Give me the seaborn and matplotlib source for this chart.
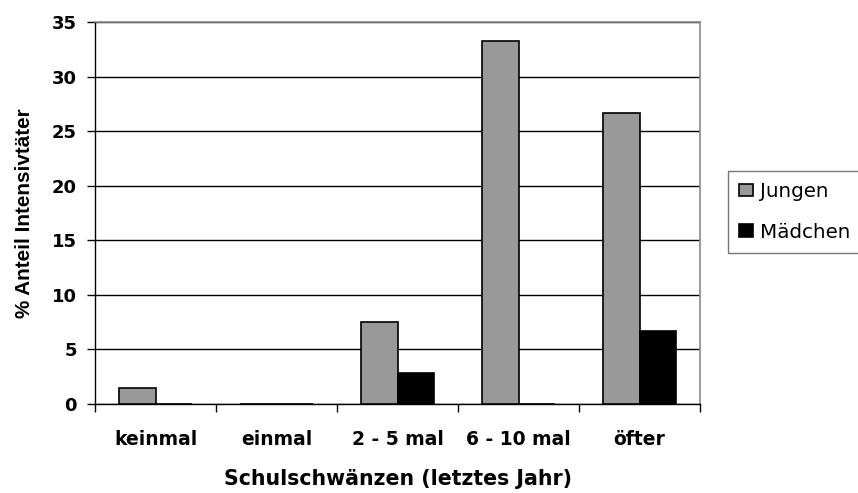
import matplotlib
matplotlib.use("Agg")
import matplotlib.pyplot as plt
import seaborn as sns
import pandas as pd
from matplotlib.ticker import FixedLocator

categories = ["keinmal", "einmal", "2 - 5 mal", "6 - 10 mal", "öfter"]
jungen = [1.5, 0.0, 7.5, 33.3, 26.7]
maedchen = [0.0, 0.0, 2.8, 0.0, 6.7]
series = ["Jungen", "Mädchen"]
colors = ["#999999", "#000000"]
y_ticks = [0, 5, 10, 15, 20, 25, 30, 35]

df = pd.DataFrame({
    "Kategorie": categories * 2,
    "Wert": jungen + maedchen,
    "Geschlecht": [series[0]] * len(categories) + [series[1]] * len(categories),
})

sns.set_style("white")
plt.rcParams["font.family"] = ["DejaVu Sans"]
plt.rcParams["text.color"] = "black"
plt.rcParams["axes.labelcolor"] = "black"
plt.rcParams["xtick.color"] = "black"
plt.rcParams["ytick.color"] = "black"

fig = plt.figure(figsize=(8.58, 4.93), dpi=100)
ax = fig.add_axes([95 / 858, 1 - 404 / 493, (700 - 95) / 858, (404 - 22) / 493])

sns.barplot(data=df, x="Kategorie", y="Wert", hue="Geschlecht", order=categories,
            hue_order=series, palette=colors, width=0.6, edgecolor="black",
            linewidth=1.2, ax=ax, zorder=3)

ax.set_ylim(0, 35)
ax.set_xlim(-0.5, len(categories) - 0.5)
ax.set_yticks(y_ticks)
ax.yaxis.grid(True, color="black", linewidth=1.0, zorder=0)
ax.set_axisbelow(True)

for s in ["top", "right"]:
    ax.spines[s].set_visible(True)
    ax.spines[s].set_color("#888888")
    ax.spines[s].set_linewidth(1.2)
for s in ["left", "bottom"]:
    ax.spines[s].set_color("black")
    ax.spines[s].set_linewidth(1.0)

ax.tick_params(axis="x", which="major", length=0, pad=19, labelsize=13.5, labelcolor="black")
ax.xaxis.set_minor_locator(FixedLocator([i - 0.5 for i in range(len(categories) + 1)]))
ax.tick_params(axis="x", which="minor", length=6, width=1, color="black", direction="out", bottom=True)
ax.tick_params(axis="y", length=6, width=1, color="black", direction="out", left=True,
               labelsize=13, pad=7, labelcolor="black")
for lbl in ax.get_xticklabels() + ax.get_yticklabels():
    lbl.set_fontweight("bold")

ax.set_xlabel("Schulschwänzen (letztes Jahr)", fontsize=14.8, fontweight="bold", color="black")
ax.set_ylabel("% Anteil Intensivtäter", fontsize=14.9, fontweight="bold", color="black",
              family=["Liberation Sans", "DejaVu Sans"])
ax.xaxis.set_label_coords(0.5, (404 - 469) / 382)
ax.yaxis.set_label_coords((34 - 95) / 605, 0.5)

handles, labels = ax.get_legend_handles_labels()
leg = ax.legend(handles, labels, loc="upper left", bbox_to_anchor=(728 / 858, 1 - 171 / 493),
                bbox_transform=fig.transFigure, frameon=True, fancybox=False, shadow=False,
                fontsize=14.3, handlelength=0.72, handleheight=0.6, handletextpad=0.35,
                borderpad=0.55, labelspacing=1.1, borderaxespad=0)
for t in leg.get_texts():
    t.set_color("black")
leg.get_frame().set_edgecolor("#555555")
leg.get_frame().set_linewidth(1.0)

fig.savefig("out.png", dpi=100)
